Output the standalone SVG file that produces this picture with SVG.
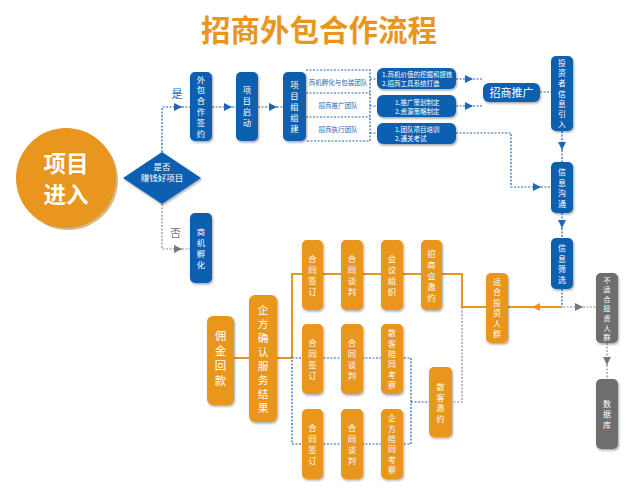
<svg xmlns="http://www.w3.org/2000/svg" width="639" height="488" viewBox="0 0 639 488">
<defs>
<style>
.b{fill:#1060B0}
.o{fill:#E8961E}
.g{fill:#6E6E6E}
.t{fill:#fff;font-family:"Noto Sans CJK SC","Noto Sans",sans-serif;text-anchor:middle}
.s{fill:#fff;font-family:"Noto Sans CJK SC","Noto Sans",sans-serif}
.bd{fill:none;stroke:#1F67B5;stroke-width:1.2;stroke-dasharray:2 1.5}
.gd{fill:none;stroke:#8A8A8A;stroke-width:1.2;stroke-dasharray:2 1.5}
.os{fill:none;stroke:#E8961E;stroke-width:2}
.lab{font-family:"Noto Sans CJK SC","Noto Sans",sans-serif;text-anchor:middle}
</style>
<filter id="sh" x="-30%" y="-30%" width="160%" height="160%">
<feDropShadow dx="1" dy="1.5" stdDeviation="1" flood-color="#000" flood-opacity="0.35"/>
</filter>
<marker id="ab" viewBox="0 0 10 10" refX="10" refY="5" markerWidth="9" markerHeight="8" markerUnits="userSpaceOnUse" orient="auto"><path d="M0,0L10,5L0,10z" fill="#1F67B5"/></marker>
<marker id="ag" viewBox="0 0 10 10" refX="10" refY="5" markerWidth="9" markerHeight="8" markerUnits="userSpaceOnUse" orient="auto"><path d="M0,0L10,5L0,10z" fill="#777"/></marker>
<marker id="ao" viewBox="0 0 10 10" refX="10" refY="5" markerWidth="9" markerHeight="8" markerUnits="userSpaceOnUse" orient="auto"><path d="M0,0L10,5L0,10z" fill="#E8961E"/></marker>
</defs>
<rect width="639" height="488" fill="#fff"/>
<text x="319" y="41" font-size="29.5" font-weight="bold" fill="#E8961E" class="lab">招商外包合作流程</text>

<g id="connectors">
<path class="bd" d="M162,152V107H182" marker-end="url(#ab)"/>
<path class="bd" d="M182,107H190"/>
<path class="gd" d="M162,204V249H182" marker-end="url(#ag)"/>
<path class="gd" d="M182,249H190"/>
<path class="bd" d="M212,107H232" marker-end="url(#ab)"/>
<path class="bd" d="M232,107H236"/>
<path class="bd" d="M258,107H277" marker-end="url(#ab)"/>
<path class="bd" d="M277,107H283"/>
<path class="bd" d="M306,70H370V141H306M306,93H370M306,117H370M370,79H377M370,106H377M370,133H377"/>
<path class="bd" d="M456,79H473" marker-end="url(#ab)"/>
<path class="bd" d="M473,79H483"/>
<path class="bd" d="M456,106H473" marker-end="url(#ab)"/>
<path class="bd" d="M473,106H483"/>
<path class="bd" d="M540,92H551"/>
<path class="bd" d="M456,133H511V187H541" marker-end="url(#ab)"/>
<path class="bd" d="M541,187H551"/>
<path class="bd" d="M562,131V150" marker-end="url(#ab)"/>
<path class="bd" d="M562,150V162"/>
<path class="bd" d="M562,213V228" marker-end="url(#ab)"/>
<path class="bd" d="M562,228V238"/>
<path class="bd" d="M562,289V307"/>
<path class="gd" d="M563,307H583" marker-end="url(#ag)"/>
<path class="gd" d="M583,307H596"/>
<path class="gd" d="M607,343V365" marker-end="url(#ag)"/>
<path class="gd" d="M607,365V379"/>
<path class="os" d="M562,307H532" marker-end="url(#ao)"/>
<path class="os" d="M532,307H508"/>
<path class="os" d="M292,358V274H462V307H486"/>
<path class="os" d="M234,358H249M277,358H292"/>
<path class="bd" d="M292,358H411V444H292Z"/>
<path class="bd" d="M411,402H429"/>
<path class="gd" d="M462,307V402H452"/>
</g>

<g id="start">
<circle cx="68" cy="180" r="50" fill="#B06E10" opacity="0.5"/>
<circle cx="66" cy="178" r="50" class="o"/>
<text class="t" x="66" y="172" font-size="22.5" font-weight="bold">项目</text>
<text class="t" x="66" y="203" font-size="22.5" font-weight="bold">进入</text>
</g>

<g id="decision">
<path d="M123,178L162,152L201,178L162,204Z" class="b" filter="url(#sh)"/>
<text class="t" x="162" y="170" font-size="8.5">是否</text>
<text class="t" x="162" y="181" font-size="8.5">赚钱好项目</text>
</g>
<text class="lab" x="177" y="97.5" font-size="11" fill="#1F67B5">是</text>
<text class="lab" x="175.5" y="237" font-size="11" fill="#777">否</text>

<g id="sign">
<rect x="190" y="72" width="22" height="69" rx="5" class="b" filter="url(#sh)"/>
<text class="t" x="201" y="82.6" font-size="8.3"><tspan x="201">外</tspan><tspan x="201" dy="10.8">包</tspan><tspan x="201" dy="10.8">合</tspan><tspan x="201" dy="10.8">作</tspan><tspan x="201" dy="10.8">签</tspan><tspan x="201" dy="10.8">约</tspan></text>
</g>
<g id="launch">
<rect x="236" y="72" width="22" height="69" rx="5" class="b" filter="url(#sh)"/>
<text class="t" x="247" y="93.2" font-size="8.4"><tspan x="247">项</tspan><tspan x="247" dy="11">目</tspan><tspan x="247" dy="11">启</tspan><tspan x="247" dy="11">动</tspan></text>
</g>
<g id="team">
<rect x="283" y="72" width="23" height="69" rx="5" class="b" filter="url(#sh)"/>
<text class="t" x="294.5" y="87.7" font-size="8.4"><tspan x="294.5">项</tspan><tspan x="294.5" dy="11">目</tspan><tspan x="294.5" dy="11">组</tspan><tspan x="294.5" dy="11">组</tspan><tspan x="294.5" dy="11">建</tspan></text>
</g>
<g id="team-labels">
<text class="lab" x="338" y="84.5" font-size="6.5" fill="#1F67B5">商机孵化与包装团队</text>
<text class="lab" x="338" y="107.5" font-size="6.5" fill="#1F67B5">招商推广团队</text>
<text class="lab" x="338" y="131.5" font-size="6.5" fill="#1F67B5">招商执行团队</text>
</g>
<g id="incubate">
<rect x="190" y="213" width="22" height="70" rx="5" class="b" filter="url(#sh)"/>
<text class="t" x="201" y="234.7" font-size="8.4"><tspan x="201">商</tspan><tspan x="201" dy="11">机</tspan><tspan x="201" dy="11">孵</tspan><tspan x="201" dy="11">化</tspan></text>
</g>
<g id="task1">
<rect x="377" y="68" width="79" height="21" rx="6" class="b" filter="url(#sh)"/>
<text class="s" x="382" y="77" font-size="6.5">1.商机价值的挖掘和提炼</text>
<text class="s" x="382" y="85.5" font-size="6.5">2.招商工具系统打造</text>
</g>
<g id="task2">
<rect x="377" y="95" width="79" height="22" rx="6" class="b" filter="url(#sh)"/>
<text class="s" x="395" y="104.5" font-size="6.5">1.推广策划制定</text>
<text class="s" x="395" y="113.5" font-size="6.5">2.资源策略制定</text>
</g>
<g id="task3">
<rect x="377" y="123" width="79" height="21" rx="6" class="b" filter="url(#sh)"/>
<text class="s" x="395" y="131.5" font-size="6.5">1.团队项目培训</text>
<text class="s" x="395" y="140.5" font-size="6.5">2.通关考试</text>
</g>
<g id="promote">
<rect x="483" y="83" width="57" height="19" rx="6" class="b" filter="url(#sh)"/>
<text class="t" x="511.5" y="96.7" font-size="11">招商推广</text>
</g>
<g id="info-in">
<rect x="551" y="56" width="22" height="75" rx="5" class="b" filter="url(#sh)"/>
<text class="t" x="562" y="65.9" font-size="7.8"><tspan x="562">投</tspan><tspan x="562" dy="10.2">资</tspan><tspan x="562" dy="10.2">者</tspan><tspan x="562" dy="10.2">信</tspan><tspan x="562" dy="10.2">息</tspan><tspan x="562" dy="10.2">引</tspan><tspan x="562" dy="10.2">入</tspan></text>
</g>
<g id="info-comm">
<rect x="551" y="162" width="22" height="51" rx="5" class="b" filter="url(#sh)"/>
<text class="t" x="562" y="175.3" font-size="8"><tspan x="562">信</tspan><tspan x="562" dy="10.5">息</tspan><tspan x="562" dy="10.5">沟</tspan><tspan x="562" dy="10.5">通</tspan></text>
</g>
<g id="info-filter">
<rect x="551" y="238" width="22" height="51" rx="5" class="b" filter="url(#sh)"/>
<text class="t" x="562" y="251.3" font-size="8"><tspan x="562">信</tspan><tspan x="562" dy="10.5">息</tspan><tspan x="562" dy="10.5">筛</tspan><tspan x="562" dy="10.5">选</tspan></text>
</g>
<g id="unfit">
<rect x="596" y="273" width="22" height="70" rx="5" class="g" filter="url(#sh)"/>
<text class="t" x="607" y="282.5" font-size="7.3"><tspan x="607">不</tspan><tspan x="607" dy="9.6">适</tspan><tspan x="607" dy="9.6">合</tspan><tspan x="607" dy="9.6">投</tspan><tspan x="607" dy="9.6">资</tspan><tspan x="607" dy="9.6">人</tspan><tspan x="607" dy="9.6">群</tspan></text>
</g>
<g id="database">
<rect x="596" y="379" width="22" height="70" rx="5" class="g" filter="url(#sh)"/>
<text class="t" x="607" y="406.5" font-size="8"><tspan x="607">数</tspan><tspan x="607" dy="10.5">据</tspan><tspan x="607" dy="10.5">库</tspan></text>
</g>
<g id="fit">
<rect x="486" y="273" width="22" height="70" rx="5" class="o" filter="url(#sh)"/>
<text class="t" x="497" y="284.8" font-size="8"><tspan x="497">适</tspan><tspan x="497" dy="10.5">合</tspan><tspan x="497" dy="10.5">投</tspan><tspan x="497" dy="10.5">资</tspan><tspan x="497" dy="10.5">人</tspan><tspan x="497" dy="10.5">群</tspan></text>
</g>
<g id="guest-invite">
<rect x="429" y="367" width="23" height="70" rx="5" class="o" filter="url(#sh)"/>
<text class="t" x="440.5" y="390.3" font-size="8"><tspan x="440.5">散</tspan><tspan x="440.5" dy="10.5">客</tspan><tspan x="440.5" dy="10.5">邀</tspan><tspan x="440.5" dy="10.5">约</tspan></text>
</g>
<g id="r1-sign">
<rect x="302" y="240" width="21" height="70" rx="5" class="o" filter="url(#sh)"/>
<text class="t" x="312.5" y="262.2" font-size="8.4"><tspan x="312.5">合</tspan><tspan x="312.5" dy="11">同</tspan><tspan x="312.5" dy="11">签</tspan><tspan x="312.5" dy="11">订</tspan></text>
</g>
<g id="r1-negotiate">
<rect x="341" y="240" width="22" height="70" rx="5" class="o" filter="url(#sh)"/>
<text class="t" x="352" y="262.2" font-size="8.4"><tspan x="352">合</tspan><tspan x="352" dy="11">同</tspan><tspan x="352" dy="11">谈</tspan><tspan x="352" dy="11">判</tspan></text>
</g>
<g id="r1-meeting">
<rect x="381" y="240" width="22" height="70" rx="5" class="o" filter="url(#sh)"/>
<text class="t" x="392" y="262.2" font-size="8.4"><tspan x="392">会</tspan><tspan x="392" dy="11">议</tspan><tspan x="392" dy="11">组</tspan><tspan x="392" dy="11">织</tspan></text>
</g>
<g id="r1-invite">
<rect x="421" y="240" width="21" height="70" rx="5" class="o" filter="url(#sh)"/>
<text class="t" x="431.5" y="256.7" font-size="8.4"><tspan x="431.5">招</tspan><tspan x="431.5" dy="11">商</tspan><tspan x="431.5" dy="11">会</tspan><tspan x="431.5" dy="11">邀</tspan><tspan x="431.5" dy="11">约</tspan></text>
</g>
<g id="r2-sign">
<rect x="302" y="324" width="21" height="70" rx="5" class="o" filter="url(#sh)"/>
<text class="t" x="312.5" y="345.7" font-size="8.4"><tspan x="312.5">合</tspan><tspan x="312.5" dy="11">同</tspan><tspan x="312.5" dy="11">签</tspan><tspan x="312.5" dy="11">订</tspan></text>
</g>
<g id="r2-negotiate">
<rect x="341" y="324" width="22" height="70" rx="5" class="o" filter="url(#sh)"/>
<text class="t" x="352" y="345.7" font-size="8.4"><tspan x="352">合</tspan><tspan x="352" dy="11">同</tspan><tspan x="352" dy="11">谈</tspan><tspan x="352" dy="11">判</tspan></text>
</g>
<g id="r2-visit">
<rect x="381" y="324" width="22" height="70" rx="5" class="o" filter="url(#sh)"/>
<text class="t" x="392" y="336.3" font-size="7.9"><tspan x="392">散</tspan><tspan x="392" dy="10.3">客</tspan><tspan x="392" dy="10.3">陪</tspan><tspan x="392" dy="10.3">同</tspan><tspan x="392" dy="10.3">考</tspan><tspan x="392" dy="10.3">察</tspan></text>
</g>
<g id="r3-sign">
<rect x="302" y="409" width="21" height="70" rx="5" class="o" filter="url(#sh)"/>
<text class="t" x="312.5" y="430.7" font-size="8.4"><tspan x="312.5">合</tspan><tspan x="312.5" dy="11">同</tspan><tspan x="312.5" dy="11">签</tspan><tspan x="312.5" dy="11">订</tspan></text>
</g>
<g id="r3-negotiate">
<rect x="341" y="409" width="22" height="70" rx="5" class="o" filter="url(#sh)"/>
<text class="t" x="352" y="430.7" font-size="8.4"><tspan x="352">合</tspan><tspan x="352" dy="11">同</tspan><tspan x="352" dy="11">谈</tspan><tspan x="352" dy="11">判</tspan></text>
</g>
<g id="r3-visit">
<rect x="381" y="409" width="22" height="70" rx="5" class="o" filter="url(#sh)"/>
<text class="t" x="392" y="421.3" font-size="7.9"><tspan x="392">企</tspan><tspan x="392" dy="10.3">方</tspan><tspan x="392" dy="10.3">陪</tspan><tspan x="392" dy="10.3">同</tspan><tspan x="392" dy="10.3">考</tspan><tspan x="392" dy="10.3">察</tspan></text>
</g>
<g id="confirm">
<rect x="249" y="295" width="28" height="127" rx="6" class="o" filter="url(#sh)"/>
<text class="t" x="263" y="313.6" font-size="10.7"><tspan x="263">企</tspan><tspan x="263" dy="14">方</tspan><tspan x="263" dy="14">确</tspan><tspan x="263" dy="14">认</tspan><tspan x="263" dy="14">服</tspan><tspan x="263" dy="14">务</tspan><tspan x="263" dy="14">结</tspan><tspan x="263" dy="14">果</tspan></text>
</g>
<g id="commission">
<rect x="207" y="316" width="27" height="89" rx="6" class="o" filter="url(#sh)"/>
<text class="t" x="220.5" y="339.9" font-size="11.5"><tspan x="220.5">佣</tspan><tspan x="220.5" dy="15">金</tspan><tspan x="220.5" dy="15">回</tspan><tspan x="220.5" dy="15">款</tspan></text>
</g>
</svg>
